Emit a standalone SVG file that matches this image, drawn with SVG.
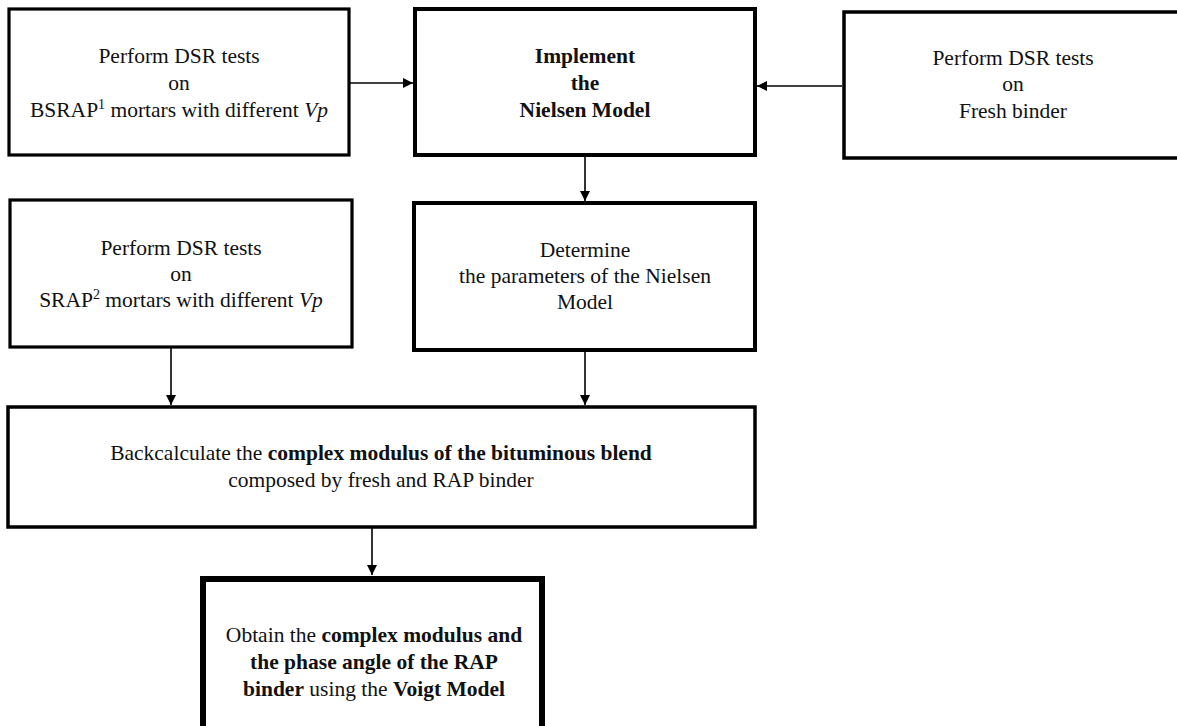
<svg xmlns="http://www.w3.org/2000/svg" width="1177" height="726" viewBox="0 0 1177 726">
<style>
text{font-family:"Liberation Serif","Times New Roman",serif;font-size:21.5px;fill:#111;text-anchor:middle}
.b{font-weight:bold}
.box{fill:#fff;stroke:#000}
.c{stroke:#000;stroke-width:1.6;fill:none}
</style>
<defs>
<marker id="ah" viewBox="0 0 10 10" refX="10" refY="5" markerWidth="10" markerHeight="10" markerUnits="userSpaceOnUse" orient="auto">
<path d="M0,0 L10,5 L0,10 z" fill="#000"/>
</marker>
</defs>
<rect width="1177" height="726" fill="#fff"/>
<g id="connectors">
<line class="c" x1="350" y1="83" x2="413" y2="83" marker-end="url(#ah)"/>
<line class="c" x1="842" y1="86" x2="757" y2="86" marker-end="url(#ah)"/>
<line class="c" x1="585" y1="157" x2="585" y2="201" marker-end="url(#ah)"/>
<line class="c" x1="171" y1="348" x2="171" y2="405" marker-end="url(#ah)"/>
<line class="c" x1="585" y1="352" x2="585" y2="405" marker-end="url(#ah)"/>
<line class="c" x1="372" y1="528" x2="372" y2="575" marker-end="url(#ah)"/>
</g>
<g id="n1">
<rect class="box" x="9" y="9" width="340" height="146" stroke-width="3.2"/>
<text x="179" y="63">Perform DSR tests</text>
<text x="179" y="90">on</text>
<text x="179" y="117">BSRAP<tspan font-size="14" dy="-8">1</tspan><tspan dy="8"> mortars with different </tspan><tspan font-style="italic">Vp</tspan></text>
</g>
<g id="n2">
<rect class="box" x="415" y="9" width="340" height="146" stroke-width="4"/>
<text class="b" x="585" y="63">Implement</text>
<text class="b" x="585" y="90">the</text>
<text class="b" x="585" y="117">Nielsen Model</text>
</g>
<g id="n3">
<rect class="box" x="844" y="12" width="345" height="146" stroke-width="3.5"/>
<text x="1013" y="65">Perform DSR tests</text>
<text x="1013" y="91">on</text>
<text x="1013" y="118">Fresh binder</text>
</g>
<g id="n4">
<rect class="box" x="10" y="200" width="342" height="147" stroke-width="3.2"/>
<text x="181" y="255">Perform DSR tests</text>
<text x="181" y="281">on</text>
<text x="181" y="307">SRAP<tspan font-size="14" dy="-8">2</tspan><tspan dy="8"> mortars with different </tspan><tspan font-style="italic">Vp</tspan></text>
</g>
<g id="n5">
<rect class="box" x="414" y="203" width="341" height="147" stroke-width="4"/>
<text x="585" y="257">Determine</text>
<text x="585" y="283">the parameters of the Nielsen</text>
<text x="585" y="309">Model</text>
</g>
<g id="n6">
<rect class="box" x="8" y="407" width="747" height="120" stroke-width="3.5"/>
<text x="381" y="460">Backcalculate the <tspan class="b">complex modulus of the bituminous blend</tspan></text>
<text x="381" y="487">composed by fresh and RAP binder</text>
</g>
<g id="n7">
<rect class="box" x="203" y="579" width="339" height="160" stroke-width="6"/>
<text x="374" y="642">Obtain the <tspan class="b">complex modulus and</tspan></text>
<text class="b" x="374" y="669">the phase angle of the RAP</text>
<text x="374" y="696"><tspan class="b">binder</tspan> using the <tspan class="b">Voigt Model</tspan></text>
</g>
</svg>
